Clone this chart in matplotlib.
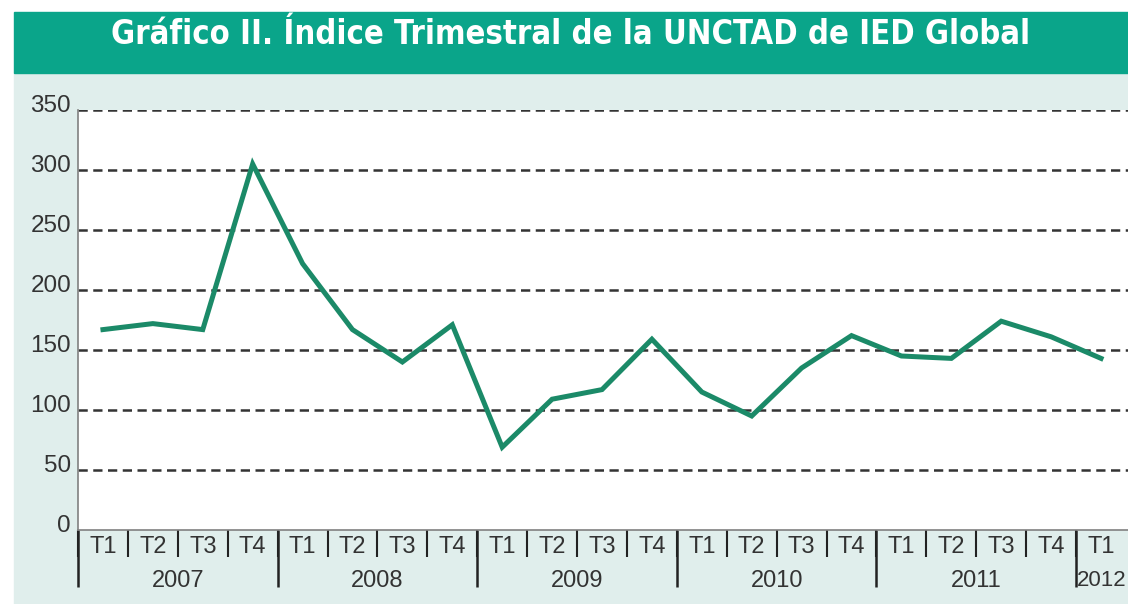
import numpy as np
import matplotlib
matplotlib.use("Agg")
import matplotlib.pyplot as plt
from matplotlib.patches import Rectangle
from matplotlib.transforms import ScaledTranslation

# datos
years = ["2007", "2008", "2009", "2010", "2011", "2012"]
quarters = ["T1", "T2", "T3", "T4"] * 5 + ["T1"]
index_values = [167, 172, 167, 305,
                222, 167, 140, 171,
                69, 109, 117, 159,
                115, 95, 135, 162,
                145, 143, 174, 161,
                143]

TITLE = "Gráfico II. Índice Trimestral de la UNCTAD de IED Global"
W, H = 1128, 604
GREEN = "#0aa58a"
LIGHT = "#e0eeec"
LINE = "#1b8a68"
TXT = "#333333"

plt.rcParams["font.family"] = ["Liberation Sans", "DejaVu Sans"]

fig = plt.figure(figsize=(W / 100, H / 100), dpi=100)
fig.patch.set_facecolor("white")

# fondo claro y banda del titulo
fig.add_artist(Rectangle((14 / W, 0), 1 - 14 / W, (H - 73) / H,
                         transform=fig.transFigure, color=LIGHT, zorder=0))
fig.add_artist(Rectangle((14 / W, (H - 73) / H), 1 - 14 / W, 61 / H,
                         transform=fig.transFigure, color=GREEN, zorder=0))
fig.text(571 / W, (H - 35) / H, TITLE, ha="center", va="center",
         color="white", fontsize=23.5, fontweight="bold",
         family=["DejaVu Sans"], fontstretch="condensed")

# ejes
ax = fig.add_axes([78 / W, (H - 530) / H, 1 - 78 / W, 420 / H])
ax.set_facecolor("white")
x = np.arange(len(index_values))
ax.plot(x, index_values, color=LINE, lw=3.6, solid_joinstyle="miter", zorder=3)

ax.set_ylim(0, 350)
ax.set_xlim(-0.5, 20.54)
ax.set_yticks(range(0, 351, 50))
for v in range(50, 351, 50):
    ax.axhline(v, color="#333333", lw=1.8, ls=(0, (3.7, 2.2)), zorder=2)

for s in ["top", "right"]:
    ax.spines[s].set_visible(False)
for s in ["left", "bottom"]:
    ax.spines[s].set_color("#808080")
    ax.spines[s].set_linewidth(1.2)

ax.tick_params(axis="y", length=0, pad=5, labelsize=17.5, labelcolor=TXT)
ax.set_xticks(x)
ax.set_xticklabels(quarters)
ax.tick_params(axis="x", length=0, pad=4, labelsize=17, labelcolor=TXT)
shift = ScaledTranslation(0, 4 / 100, fig.dpi_scale_trans)
for lbl in ax.get_yticklabels():
    lbl.set_verticalalignment("center")
    lbl.set_transform(lbl.get_transform() + shift)

# separadores de trimestres y de anos
trans = ax.get_xaxis_transform()
q_sep = np.arange(len(index_values)) - 0.5
ax.vlines(q_sep, -27 / 420, 0, transform=trans, color="#222222",
          lw=1.5, clip_on=False)
y_sep = [-0.5, 3.5, 7.5, 11.5, 15.5, 19.5]
ax.vlines(y_sep, -57 / 420, 0, transform=trans, color="#222222",
          lw=1.8, clip_on=False)

for i, yr in enumerate(years[:-1]):
    ax.text(4 * i + 1.5, -51 / 420, yr, transform=trans, ha="center",
            va="center", fontsize=17, color=TXT)
ax.text(19.52, -51 / 420, years[-1], transform=trans, ha="left",
        va="center", fontsize=16, color=TXT)

fig.savefig("out.png", dpi=100)
